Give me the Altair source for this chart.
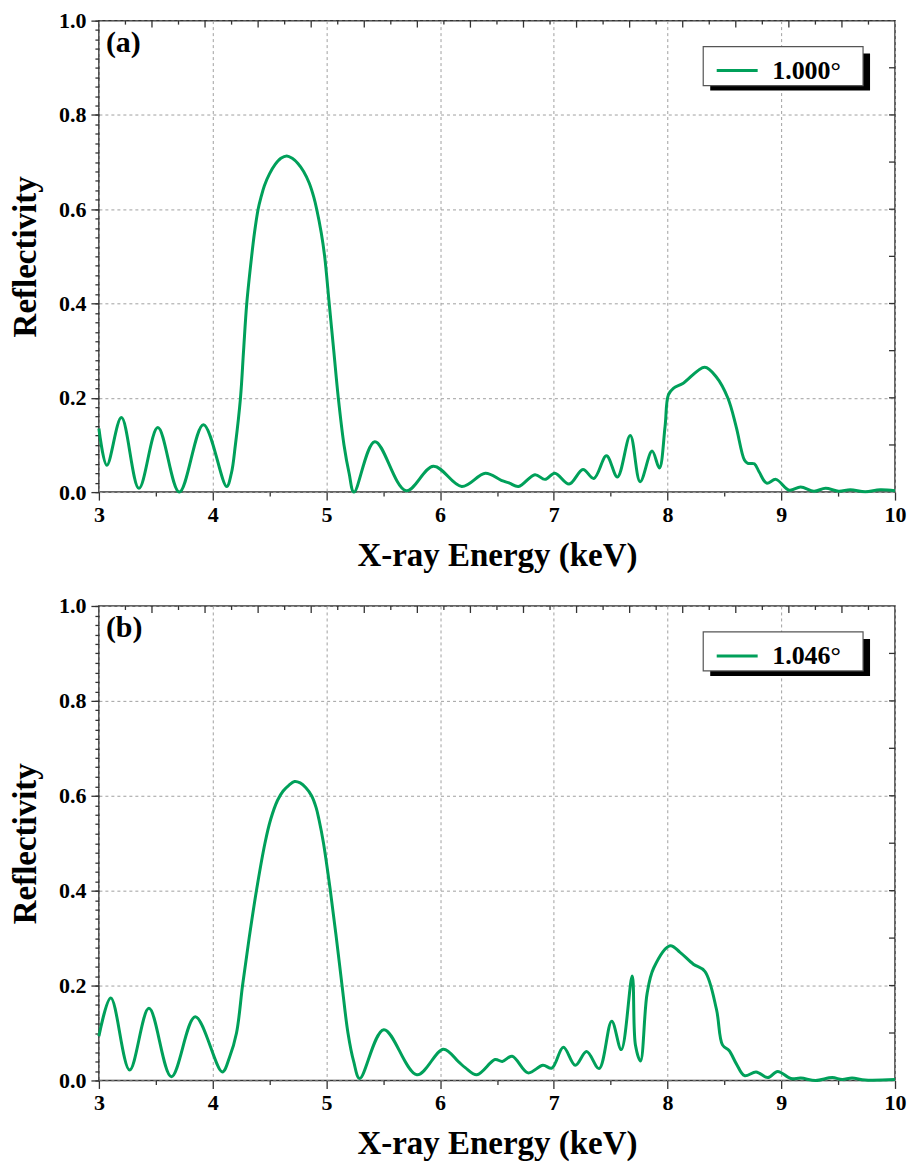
import altair as alt
import pandas as pd

FONT = "Liberation Serif"
GREEN = "#00a05a"

# ---- data ----
E_a = [3.00, 3.07, 3.198, 3.352, 3.518, 3.707, 3.919, 4.123, 4.165, 4.20, 4.245, 4.272,
       4.30, 4.343, 4.368, 4.40, 4.425, 4.455, 4.50, 4.55, 4.60, 4.652, 4.70, 4.75,
       4.80, 4.85, 4.89, 4.915, 4.955, 4.985, 5.025, 5.065, 5.105, 5.155, 5.20, 5.243,
       5.426, 5.70, 5.941, 6.19, 6.398, 6.538, 6.61, 6.69, 6.834,
       6.922, 7.009, 7.134, 7.256, 7.352, 7.463, 7.559, 7.672, 7.759, 7.864, 7.928, 7.978,
       8.007, 8.051, 8.138, 8.327, 8.429, 8.531, 8.603, 8.676, 8.706, 8.763, 8.807, 8.871,
       8.953, 9.07, 9.17, 9.287, 9.389, 9.505, 9.607, 9.738, 9.869, 10.0]
R_a = [0.135, 0.057, 0.158, 0.008, 0.137, 0.000, 0.143, 0.012, 0.04, 0.10, 0.20, 0.30,
       0.40, 0.50, 0.55, 0.60, 0.625, 0.65, 0.675, 0.695, 0.708, 0.713, 0.708, 0.697,
       0.68, 0.655, 0.625, 0.60, 0.55, 0.50, 0.40, 0.30, 0.20, 0.10, 0.04, 0.000,
       0.107, 0.003, 0.055, 0.012, 0.040, 0.025, 0.019, 0.012, 0.037,
       0.027, 0.040, 0.017, 0.048, 0.029, 0.077, 0.032, 0.120, 0.022, 0.087, 0.051, 0.139,
       0.206, 0.220, 0.231, 0.265, 0.244, 0.199, 0.139, 0.068, 0.061, 0.060, 0.042, 0.019,
       0.027, 0.004, 0.011, 0.002, 0.008, 0.002, 0.005, 0.001, 0.005, 0.003]

E_b = [3.00, 3.105, 3.27, 3.44, 3.637, 3.847, 4.085, 4.15, 4.21, 4.263, 4.321, 4.385,
       4.46, 4.51, 4.57, 4.62, 4.67, 4.72, 4.77, 4.82, 4.87, 4.91, 4.935, 4.975,
       5.035, 5.088, 5.138, 5.19, 5.24, 5.293, 5.505, 5.796,
       6.029, 6.163, 6.221, 6.323, 6.483, 6.547, 6.634, 6.773, 6.904, 6.983, 7.084, 7.189,
       7.288, 7.398, 7.509, 7.593, 7.689, 7.718, 7.762, 7.820, 7.878, 8.023, 8.11, 8.227,
       8.328, 8.43, 8.483, 8.541, 8.605, 8.677, 8.779, 8.881, 8.968, 9.084, 9.172, 9.302,
       9.448, 9.535, 9.622, 9.738, 10.0]
R_b = [0.093, 0.174, 0.022, 0.152, 0.008, 0.134, 0.018, 0.05, 0.10, 0.20, 0.30, 0.40,
       0.50, 0.55, 0.59, 0.61, 0.622, 0.630, 0.627, 0.617, 0.60, 0.575, 0.55, 0.50,
       0.40, 0.30, 0.20, 0.10, 0.04, 0.004, 0.107, 0.012,
       0.066, 0.039, 0.027, 0.012, 0.044, 0.040, 0.051, 0.016, 0.032, 0.026, 0.070, 0.032,
       0.061, 0.025, 0.125, 0.065, 0.220, 0.074, 0.041, 0.183, 0.237, 0.284, 0.270, 0.245,
       0.230, 0.15, 0.075, 0.063, 0.035, 0.010, 0.018, 0.006, 0.019, 0.004, 0.005, 0.000,
       0.006, 0.002, 0.005, 0.001, 0.002]

PANEL_TAGS = ["(a)", "(b)"]
LEGEND_LABELS = ["1.000°", "1.046°"]

X_MAJOR = [3, 4, 5, 6, 7, 8, 9, 10]
X_MINOR = [3.5, 4.5, 5.5, 6.5, 7.5, 8.5, 9.5]
Y_MAJOR = [0.0, 0.2, 0.4, 0.6, 0.8, 1.0]
Y_MINOR = [round(0.02 * k, 2) for k in range(51)]
Y_RIGHT = [0.1, 0.2, 0.3, 0.4, 0.5, 0.6, 0.7, 0.8, 0.9]
TOP_MAJOR = [3 + 7 / 30 * k for k in range(2, 30, 2)]
TOP_MINOR = [3 + 7 / 30 * k for k in range(1, 30, 2)]

W = 797
H_TOP = 472
H_BOTTOM = 475
TICK = "#333333"
LX = -4  # legend horizontal shift


def panel(E, R, tag, leg, H):
    df = pd.DataFrame({"E": E, "R": R, "series": leg})
    xs = alt.Scale(domain=[3, 10], nice=False, zero=False)
    ys = alt.Scale(domain=[0, 1], nice=False, zero=False)
    base = alt.Chart(df)
    common = dict(domain=False, tickColor=TICK, tickWidth=1.3)

    main = base.mark_line(strokeWidth=3, interpolate="catmull-rom").encode(
        x=alt.X("E:Q", scale=xs, axis=alt.Axis(
            orient="bottom", values=X_MAJOR, format="d", tickSize=8,
            labelFont=FONT, labelFontSize=22, labelFontWeight="bold", labelColor="black",
            labelPadding=4, labelFlush=False,
            grid=True, gridDash=[3, 3], gridColor="#a0a0a0", gridWidth=1,
            title="X-ray Energy (keV)", titleFont=FONT, titleFontSize=33,
            titleFontWeight="bold", titleColor="black", titlePadding=14, **common)),
        y=alt.Y("R:Q", scale=ys, axis=alt.Axis(
            orient="left", values=Y_MAJOR, format=".1f", tickSize=8,
            labelFont=FONT, labelFontSize=22, labelFontWeight="bold", labelColor="black",
            labelPadding=5, labelFlush=False,
            grid=True, gridDash=[3, 3], gridColor="#a0a0a0", gridWidth=1,
            title="Reflectivity", titleFont=FONT, titleFontSize=33,
            titleFontWeight="bold", titleColor="black", titlePadding=16, **common)),
        color=alt.Color("series:N", scale=alt.Scale(domain=[leg], range=[GREEN]),
                        legend=alt.Legend(
                            orient="none", legendX=621 + LX, legendY=28, title=None,
                            symbolType="stroke", symbolStrokeWidth=3, symbolSize=1681,
                            labelFont=FONT, labelFontSize=26, labelFontWeight="bold",
                            labelColor="black", labelOffset=13, padding=0)),
    )

    minor = base.mark_line(opacity=0).encode(
        x=alt.X("E:Q", scale=xs, axis=alt.Axis(
            orient="bottom", values=X_MINOR, tickSize=4, labels=False, grid=False,
            title=None, **common)),
        y=alt.Y("R:Q", scale=ys, axis=alt.Axis(
            orient="left", values=Y_MINOR, tickSize=4, labels=False, grid=False,
            title=None, **common)),
    )

    # inward ticks on the top and right frame edges
    top_major = alt.Chart(pd.DataFrame({"v": TOP_MAJOR})).mark_rule(
        color=TICK, strokeWidth=1.3).encode(
        x=alt.X("v:Q", scale=xs, axis=None), y=alt.value(0), y2=alt.value(7))
    top_minor = alt.Chart(pd.DataFrame({"v": TOP_MINOR})).mark_rule(
        color=TICK, strokeWidth=1.3).encode(
        x=alt.X("v:Q", scale=xs, axis=None), y=alt.value(0), y2=alt.value(4))
    right_ticks = alt.Chart(pd.DataFrame({"v": Y_RIGHT})).mark_rule(
        color=TICK, strokeWidth=1.3).encode(
        y=alt.Y("v:Q", scale=ys, axis=None), x=alt.value(W - 6), x2=alt.value(W))

    one = pd.DataFrame({"t": [tag]})
    shadow = alt.Chart(one).mark_rect(color="black").encode(
        x=alt.value(616 + LX), x2=alt.value(776 + LX), y=alt.value(33), y2=alt.value(70))
    box = alt.Chart(one).mark_rect(fill="white", stroke="#555555", strokeWidth=1.2).encode(
        x=alt.value(609 + LX), x2=alt.value(769 + LX), y=alt.value(26), y2=alt.value(65))
    label = alt.Chart(one).mark_text(
        align="left", baseline="alphabetic", font=FONT, fontSize=30,
        fontWeight="bold", color="black").encode(
        text="t:N", x=alt.value(7), y=alt.value(31))

    return alt.layer(main, minor, top_major, top_minor, right_ticks,
                     shadow, box, label).resolve_axis(
        x="independent", y="independent").properties(width=W, height=H)


chart = alt.vconcat(
    panel(E_a, R_a, PANEL_TAGS[0], LEGEND_LABELS[0], H_TOP),
    panel(E_b, R_b, PANEL_TAGS[1], LEGEND_LABELS[1], H_BOTTOM),
    spacing=21,
).resolve_scale(color="independent").configure_view(
    stroke="#333333", strokeWidth=1.5
).properties(padding=0, background="white")

chart.save("out.html", embed_options={"renderer": "svg", "actions": False})
